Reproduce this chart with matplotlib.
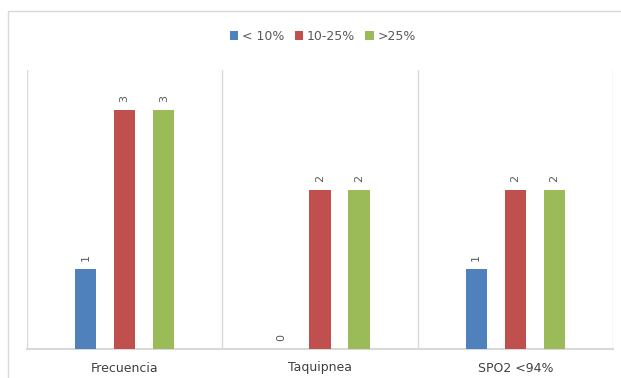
import matplotlib.pyplot as plt
from matplotlib.patches import Rectangle
import numpy as np

categories = ['Frecuencia', 'Taquipnea', 'SPO2 <94%']
series_names = ['< 10%', '10-25%', '>25%']
low = [1, 0, 1]
mid = [3, 2, 2]
high = [3, 2, 2]
colors = ['#4F81BD', '#C0504D', '#9BBB59']

fig = plt.figure(figsize=(6.21, 3.78), dpi=100)
ax = fig.add_axes([27/621, 1 - 349/378, 586/621, 279/378])

x = np.arange(len(categories)) + 0.5
offsets = [-0.2, 0.0, 0.2]
for vals, off, col, name in zip([low, mid, high], offsets, colors, series_names):
    bars = ax.bar(x + off, vals, width=0.11, color=col, label=name, zorder=3)
    for b, v in zip(bars, vals):
        ax.text(b.get_x() + b.get_width()/2, v + 0.1, str(v), rotation=90,
                ha='center', va='bottom', fontsize=8, color='#595959')

ax.set_xlim(0, 3)
ax.set_ylim(0, 3.5)
for xv in [0, 1, 2, 3]:
    ax.axvline(xv, color='#d9d9d9', lw=1, zorder=1)
for s in ['top', 'right', 'left']:
    ax.spines[s].set_visible(False)
ax.spines['bottom'].set_color('#d9d9d9')
ax.spines['bottom'].set_linewidth(1.5)
ax.set_yticks([])
ax.set_xticks(x)
ax.set_xticklabels(categories, fontsize=9, color='#404040')
ax.tick_params(axis='x', length=0, pad=9)

fig.legend(loc='center', bbox_to_anchor=(0.52, 1 - 36/378), ncol=3, frameon=False,
           fontsize=9, handlelength=0.7, handleheight=0.7, handletextpad=0.3,
           columnspacing=0.8, labelcolor='#595959')

fig.add_artist(Rectangle((8/621, -0.1), 2, 1 - 11/378 + 0.1, fill=False,
                         ec='#d9d9d9', lw=1, transform=fig.transFigure))

plt.savefig('out.png', dpi=100)
